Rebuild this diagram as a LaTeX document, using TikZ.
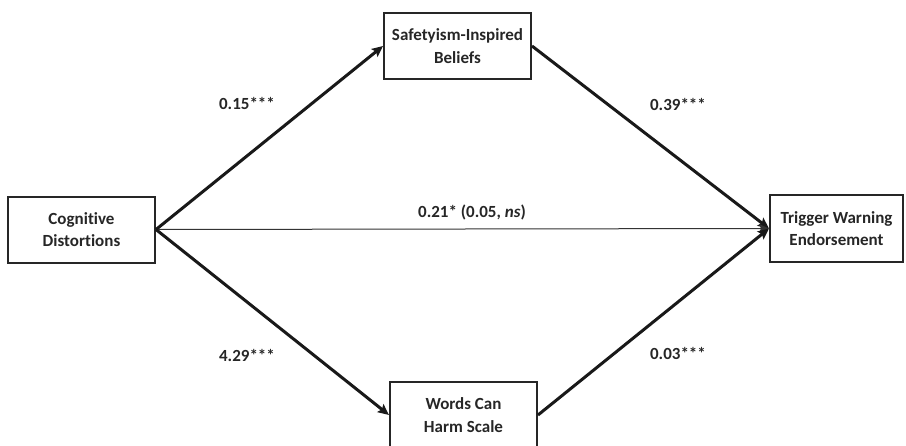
\documentclass[tikz,border=0pt]{standalone}
\usepackage{fontspec}
\setmainfont{Carlito}[Ligatures={NoCommon}]
\usetikzlibrary{arrows.meta}
\begin{document}
\begin{tikzpicture}[x=1pt,y=-1pt,
  box/.style={draw=black!85,line width=2pt,minimum width=147pt,minimum height=66pt,align=center,inner sep=0pt,
    font=\fontsize{17}{22.5}\selectfont\bfseries,text=black!85},
  lbl/.style={font=\fontsize{17}{20}\selectfont\bfseries,text=black!85,inner sep=0pt},
  thickarr/.style={draw=black!90,line width=3pt,-{Stealth[length=11pt,width=10pt,inset=2pt]}},
  thinarr/.style={draw=black!80,line width=1pt,-{Stealth[length=10pt,width=9pt,inset=2pt]}}]
\useasboundingbox (0,0) rectangle (906,445);
\node[box] (cog) at (81.5,229.5) {Cognitive\\Distortions};
\node[box] (saf) at (457.5,46) {Safetyism-Inspired\\Beliefs};
\node[box,minimum width=133pt,minimum height=67pt] (trig) at (836.5,228.5) {Trigger Warning\\Endorsement};
\node[box,minimum height=66pt] (words) at (463.5,415) {Words Can\\Harm Scale};
\draw[thickarr] (cog.east) -- (saf.west);
\draw[thickarr] (saf.east) -- (trig.west);
\draw[thinarr] (cog.east) -- (trig.west);
\draw[thickarr] (cog.east) -- (words.west);
\draw[thickarr] (words.east) -- (trig.west);
\node[lbl] (l1) at (247,103) {0.15***};
\node[lbl] (l2) at (678,104) {0.39***};
\node[lbl] (l3) at (247,355) {4.29***};
\node[lbl] (l4) at (678,353) {0.03***};
\node[lbl] (l5) at (472,212) {0.21* (0.05, \textit{ns})};
\end{tikzpicture}
\end{document}
